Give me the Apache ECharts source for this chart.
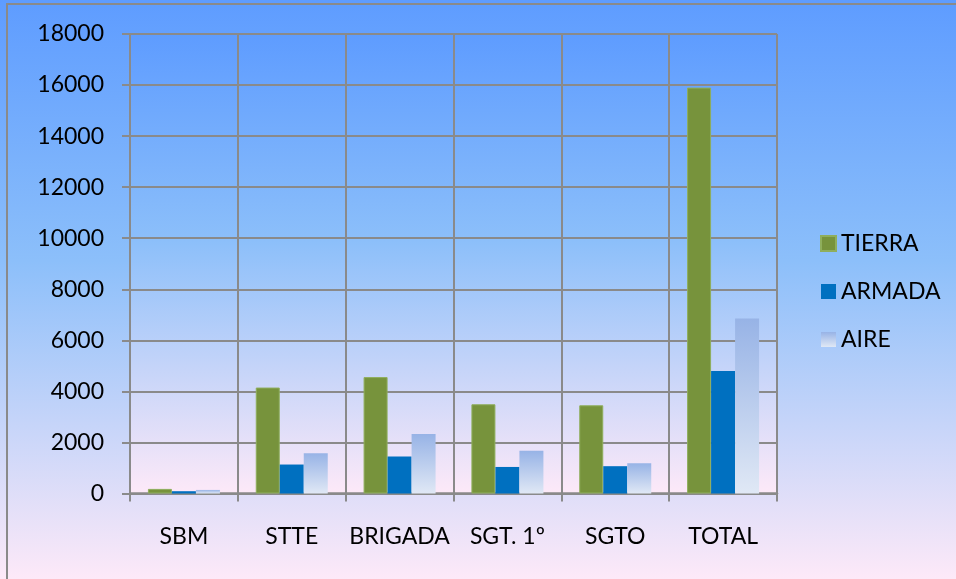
<!DOCTYPE html>
<html>
<head>
<meta charset="utf-8">
<script src="https://cdn.jsdelivr.net/npm/echarts@6/dist/echarts.min.js"></script>
<style>
  html, body { margin: 0; padding: 0; }
  #chart { width: 956px; height: 579px; }
</style>
</head>
<body>
<div id="chart"></div>
<script>
// datos
var categorias = ['SBM', 'STTE', 'BRIGADA', 'SGT. 1º', 'SGTO', 'TOTAL'];
var tierra = [180, 4150, 4560, 3495, 3455, 15900];
var armada = [90, 1135, 1450, 1040, 1070, 4800];
var aire = [140, 1580, 2330, 1670, 1185, 6860];

var gris = '#8a8a8a';
var fuente = 'Lato';

function fondo() {
    return new echarts.graphic.LinearGradient(0, 0, 0, 1, [
        { offset: 0, color: '#5e9cff' },
        { offset: 0.45, color: '#8cbffa' },
        { offset: 1, color: '#fde9f8' }
    ]);
}

var chart = echarts.init(document.getElementById('chart'));
chart.setOption({
    backgroundColor: fondo(),
    animation: false,
    graphic: [{
        type: 'rect',
        shape: { x: 7, y: 4, width: 1000, height: 700 },
        style: { fill: 'none', stroke: gris, lineWidth: 2 }
    }],
    grid: {
        left: 130,
        right: 179,
        top: 34,
        bottom: 85.5,
        show: true,
        borderWidth: 0,
        backgroundColor: fondo()
    },
    legend: {
        orient: 'vertical',
        left: 815,
        top: 227,
        itemWidth: 15,
        itemHeight: 15,
        itemGap: 25,
        icon: 'rect',
        textStyle: { fontFamily: fuente, fontSize: 23, color: '#000' },
        data: ['TIERRA', 'ARMADA', 'AIRE']
    },
    xAxis: {
        type: 'category',
        data: categorias,
        axisLine: { lineStyle: { color: gris, width: 2.5 } },
        axisTick: { show: true, interval: 0, length: 8, lineStyle: { color: gris, width: 2 } },
        splitLine: { show: true, interval: 0, lineStyle: { color: gris, width: 2 } },
        axisLabel: { interval: 0, fontFamily: fuente, fontSize: 23, color: '#000', margin: 32 }
    },
    yAxis: {
        type: 'value',
        min: 0,
        max: 18000,
        interval: 2000,
        axisLine: { show: true, lineStyle: { color: gris, width: 2 } },
        axisTick: { show: true, length: 8, lineStyle: { color: gris, width: 2 } },
        splitLine: { lineStyle: { color: gris, width: 2 } },
        axisLabel: {
            fontFamily: fuente, fontSize: 23, color: '#000', margin: 26,
            formatter: function (v) { return String(v); }
        }
    },
    series: [
        {
            name: 'TIERRA',
            type: 'bar',
            barWidth: 24,
            barGap: 0,
            data: tierra,
            itemStyle: { color: '#77933c', borderColor: '#8fae5c', borderWidth: 1 }
        },
        {
            name: 'ARMADA',
            type: 'bar',
            barWidth: 24,
            barGap: 0,
            data: armada,
            itemStyle: { color: '#0070c0' }
        },
        {
            name: 'AIRE',
            type: 'bar',
            barWidth: 24,
            barGap: 0,
            data: aire,
            itemStyle: {
                color: new echarts.graphic.LinearGradient(0, 0, 0, 1, [
                    { offset: 0, color: '#97b3e6' },
                    { offset: 1, color: '#e0e8f5' }
                ])
            }
        }
    ]
});
</script>
</body>
</html>
